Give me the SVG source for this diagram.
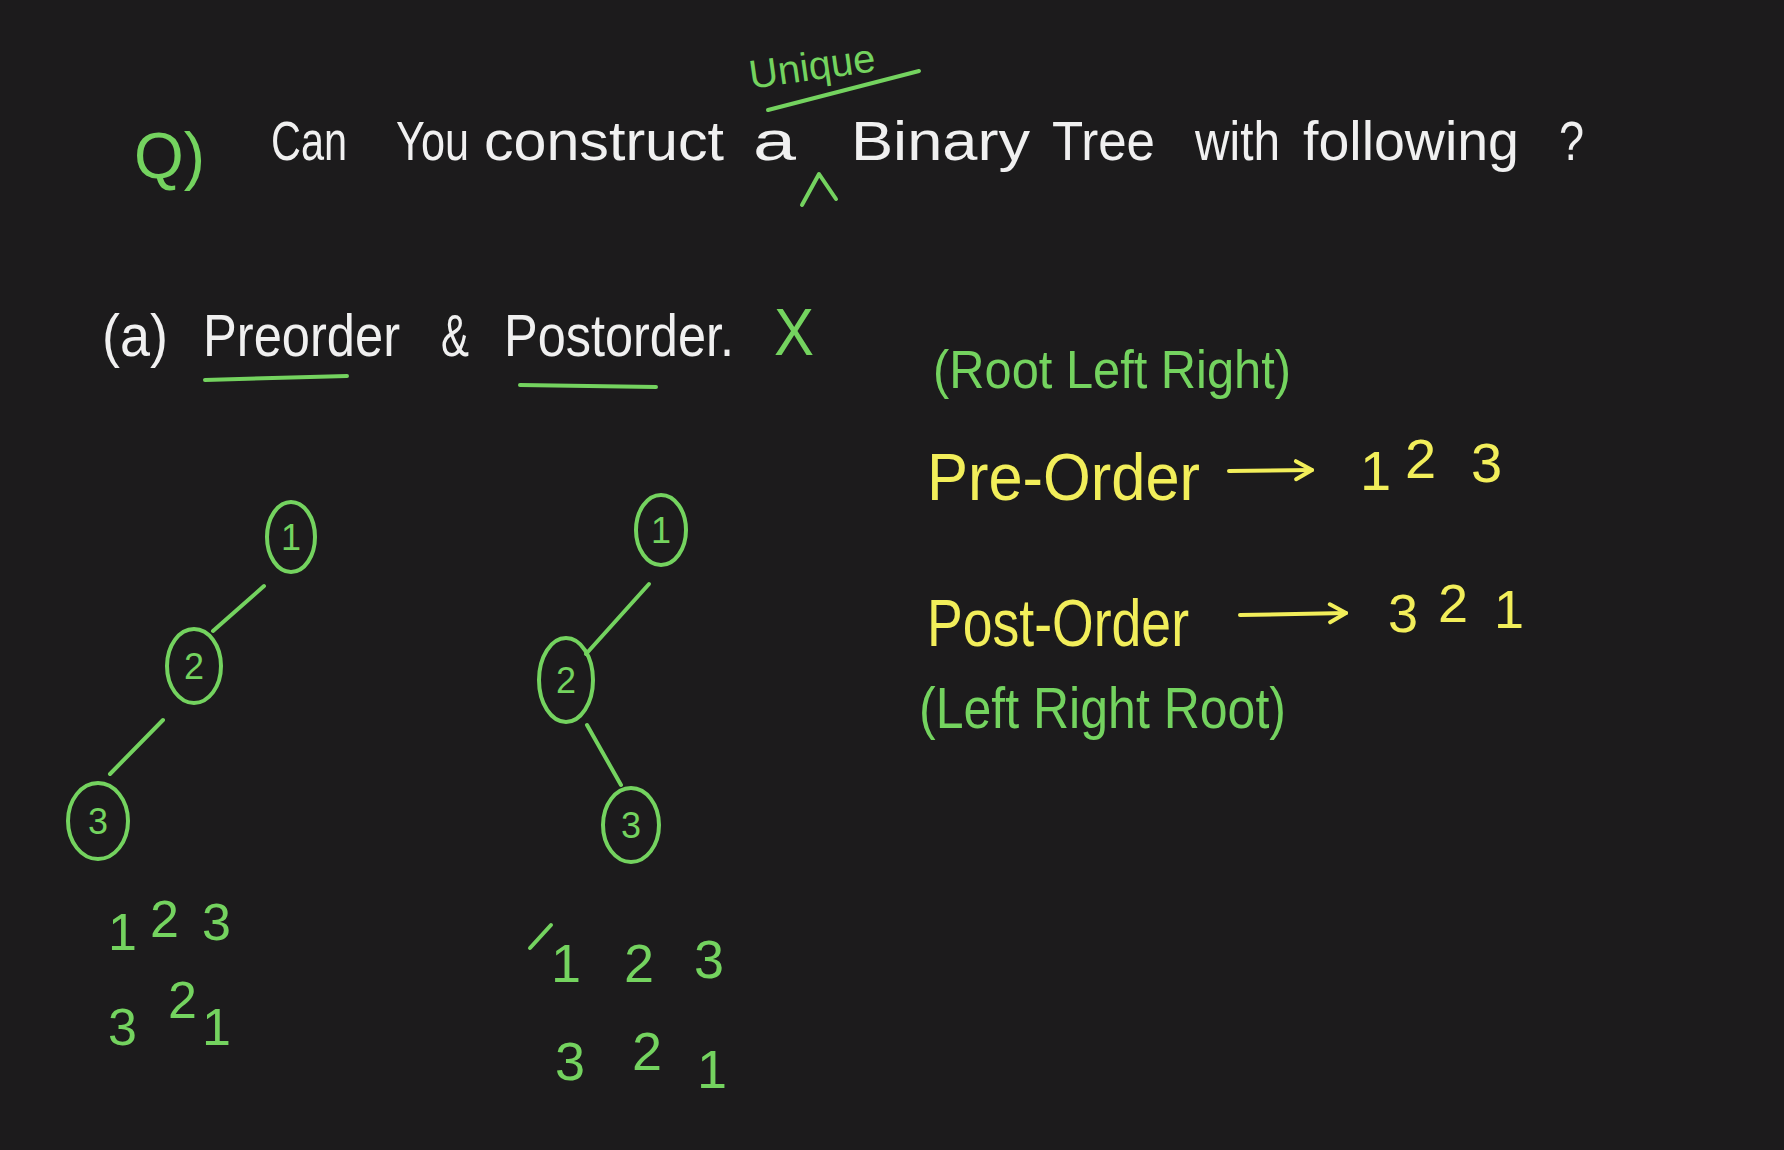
<svg xmlns="http://www.w3.org/2000/svg" width="1784" height="1150" viewBox="0 0 1784 1150">
<defs>
<style>
.bg{fill:#1c1b1c}
.w{fill:#f0f0f0;font-family:"Liberation Sans","DejaVu Sans",sans-serif}
.g{fill:#74d35f;font-family:"Liberation Sans","DejaVu Sans",sans-serif}
.y{fill:#f2ee5a;font-family:"Liberation Sans","DejaVu Sans",sans-serif}
.gs{fill:none;stroke:#74d35f;stroke-width:4;stroke-linecap:round;stroke-linejoin:round}
.ys{fill:none;stroke:#f2ee5a;stroke-width:4;stroke-linecap:round;stroke-linejoin:round}
.node{fill:none;stroke:#74d35f;stroke-width:4}
.nt{fill:#74d35f;font-family:"Liberation Sans","DejaVu Sans",sans-serif;font-size:36px;text-anchor:middle}
</style>
<marker id="chev" viewBox="0 0 24 24" refX="21" refY="12" markerWidth="24" markerHeight="24" orient="auto" markerUnits="userSpaceOnUse">
<path d="M5,3 L21,12 L5,21" fill="none" stroke="#f2ee5a" stroke-width="4" stroke-linecap="round" stroke-linejoin="round"/>
</marker>
</defs>
<rect class="bg" x="0" y="0" width="1784" height="1150"/>

<g id="title">
<text class="g" x="134" y="178" font-size="64" textLength="71" lengthAdjust="spacingAndGlyphs">Q)</text>
<text class="w" font-size="56" y="160">
<tspan x="271" textLength="76" lengthAdjust="spacingAndGlyphs">Can</tspan>
<tspan x="396" textLength="73" lengthAdjust="spacingAndGlyphs">You</tspan>
<tspan x="484" textLength="240" lengthAdjust="spacingAndGlyphs">construct</tspan>
<tspan x="753" textLength="43" lengthAdjust="spacingAndGlyphs">a</tspan>
<tspan x="851" textLength="179" lengthAdjust="spacingAndGlyphs">Binary</tspan>
<tspan x="1052" textLength="103" lengthAdjust="spacingAndGlyphs">Tree</tspan>
<tspan x="1195" textLength="85" lengthAdjust="spacingAndGlyphs">with</tspan>
<tspan x="1303" textLength="216" lengthAdjust="spacingAndGlyphs">following</tspan>
<tspan x="1559" textLength="25" lengthAdjust="spacingAndGlyphs">?</tspan>
</text>
<text class="g" x="749" y="80" font-size="40" textLength="127" lengthAdjust="spacingAndGlyphs" transform="rotate(-8 812 70)">Unique</text>
<path class="gs" d="M768,110 L919,71"/>
<path class="gs" d="M802,205 L819,174 L836,199"/>
</g>

<g id="subtitle">
<text class="w" font-size="60" y="356">
<tspan x="102" textLength="66" lengthAdjust="spacingAndGlyphs">(a)</tspan>
<tspan x="203" textLength="197" lengthAdjust="spacingAndGlyphs">Preorder</tspan>
<tspan x="441" textLength="28" lengthAdjust="spacingAndGlyphs">&amp;</tspan>
<tspan x="504" textLength="230" lengthAdjust="spacingAndGlyphs">Postorder.</tspan>
</text>
<text class="g" x="774" y="355" font-size="66" textLength="40" lengthAdjust="spacingAndGlyphs">X</text>
<path class="gs" d="M205,380 L347,376"/>
<path class="gs" d="M520,385 L656,387"/>
</g>

<g id="traversals">
<text class="g" x="933" y="388" font-size="54" textLength="358" lengthAdjust="spacingAndGlyphs">(Root Left Right)</text>
<text class="y" x="927" y="500" font-size="66" textLength="273" lengthAdjust="spacingAndGlyphs">Pre-Order</text>
<path class="ys" d="M1229,471 L1312,470" marker-end="url(#chev)"/>
<text class="y" font-size="56" y="490">
<tspan x="1360">1</tspan>
<tspan x="1405" y="478">2</tspan>
<tspan x="1471" y="482">3</tspan>
</text>
<text class="y" x="927" y="646" font-size="66" textLength="262" lengthAdjust="spacingAndGlyphs">Post-Order</text>
<path class="ys" d="M1240,615 L1346,613" marker-end="url(#chev)"/>
<text class="y" font-size="54" y="632">
<tspan x="1388">3</tspan>
<tspan x="1438" y="622">2</tspan>
<tspan x="1494" y="628">1</tspan>
</text>
<text class="g" x="919" y="728" font-size="58" textLength="367" lengthAdjust="spacingAndGlyphs">(Left Right Root)</text>
</g>

<g id="connectors">
<path class="gs" d="M264,586 L213,631"/>
<path class="gs" d="M163,720 L110,774"/>
<path class="gs" d="M649,584 L586,654"/>
<path class="gs" d="M587,725 L621,785"/>
</g>

<g id="t1-n1"><ellipse class="node" cx="291" cy="537" rx="24" ry="35"/><text class="nt" x="291" y="550">1</text></g>
<g id="t1-n2"><ellipse class="node" cx="194" cy="666" rx="27" ry="37"/><text class="nt" x="194" y="679">2</text></g>
<g id="t1-n3"><ellipse class="node" cx="98" cy="821" rx="30" ry="38"/><text class="nt" x="98" y="834">3</text></g>
<g id="t2-n1"><ellipse class="node" cx="661" cy="530" rx="25" ry="35"/><text class="nt" x="661" y="543">1</text></g>
<g id="t2-n2"><ellipse class="node" cx="566" cy="680" rx="27" ry="42"/><text class="nt" x="566" y="693">2</text></g>
<g id="t2-n3"><ellipse class="node" cx="631" cy="825" rx="28" ry="37"/><text class="nt" x="631" y="838">3</text></g>

<g id="t1-seq">
<text class="g" font-size="52">
<tspan x="108" y="950">1</tspan>
<tspan x="150" y="937">2</tspan>
<tspan x="202" y="940">3</tspan>
<tspan x="108" y="1045">3</tspan>
<tspan x="168" y="1018">2</tspan>
<tspan x="202" y="1045">1</tspan>
</text>
</g>
<g id="t2-seq">
<path class="gs" d="M530,948 L551,925"/>
<text class="g" font-size="54">
<tspan x="551" y="982">1</tspan>
<tspan x="624" y="982">2</tspan>
<tspan x="694" y="978">3</tspan>
<tspan x="555" y="1080">3</tspan>
<tspan x="632" y="1070">2</tspan>
<tspan x="697" y="1088">1</tspan>
</text>
</g>
</svg>
